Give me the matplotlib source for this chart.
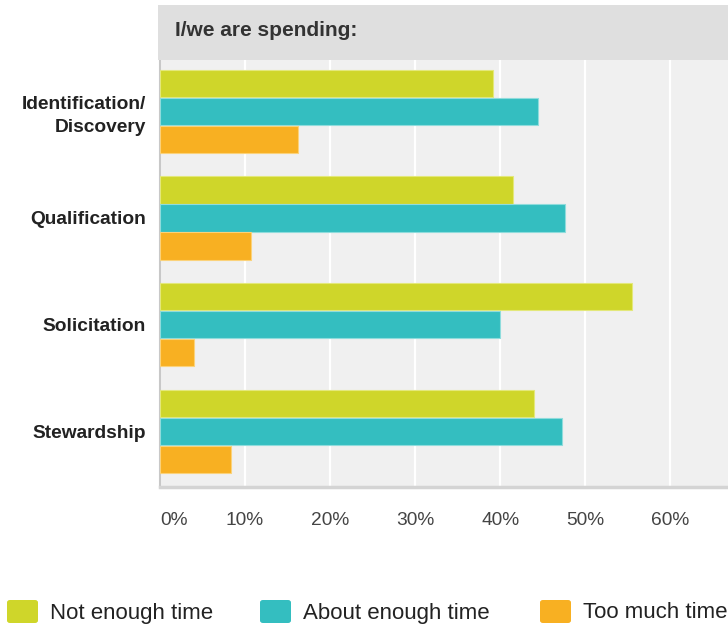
"""Time spent per fundraising stage: horizontal grouped bar chart."""

import matplotlib

matplotlib.use("Agg")
import matplotlib.pyplot as plt
import numpy as np
from matplotlib.patches import FancyBboxPatch, Rectangle

stages = ["Identification/\nDiscovery", "Qualification", "Solicitation", "Stewardship"]
series_names = ["Not enough time", "About enough time", "Too much time"]
not_enough = [39.2, 41.5, 55.5, 44.0]
about_enough = [44.4, 47.6, 40.0, 47.3]
too_much = [16.2, 10.7, 4.0, 8.4]
x_ticks = [0, 10, 20, 30, 40, 50, 60]
x_tick_labels = ["0%", "10%", "20%", "30%", "40%", "50%", "60%"]

colors = ["#cfd62a", "#34bec0", "#f8b022"]
edges = ["#e3e87a", "#8fdcdc", "#fbd27a"]

plt.rcParams["font.family"] = ["Liberation Sans", "DejaVu Sans"]

fig = plt.figure(figsize=(7.28, 6.25), dpi=100)
ax = fig.add_axes([160 / 728, 138 / 625, 568 / 728, 427 / 625])
ax.set_facecolor("#f0f0f0")

y = np.arange(len(stages))
h = 0.262
for i, (vals, col, ec) in enumerate(zip([not_enough, about_enough, too_much], colors, edges)):
    ax.barh(y + (i - 1) * h, vals, height=h * 0.97, color=col, edgecolor=ec,
            linewidth=0.8, zorder=3)

ax.set_xlim(0, 66.8)
ax.set_ylim(3.52, -0.48)
ax.set_xticks(x_ticks)
ax.set_xticklabels(x_tick_labels)
ax.xaxis.grid(True, color="white", linewidth=1.6, zorder=1)
ax.set_axisbelow(True)
ax.set_yticks(y)
ax.set_yticklabels(stages, fontweight="bold", fontsize=13.8, color="#222222",
                   linespacing=1.45)
ax.tick_params(axis="y", length=0, pad=10)
ax.tick_params(axis="x", length=0, pad=18, labelsize=13.8, labelcolor="#444444")
ax.get_xticklabels()[0].set_horizontalalignment("left")
for s in ["top", "right"]:
    ax.spines[s].set_visible(False)
ax.spines["left"].set_color("#c8c8c8")
ax.spines["left"].set_linewidth(1.5)
ax.spines["bottom"].set_color("#d4d4d4")
ax.spines["bottom"].set_linewidth(2.5)

# header band above the plot
fig.patches.append(Rectangle((158 / 728, 565 / 625), 570 / 728, 55 / 625,
                             transform=fig.transFigure, facecolor="#dfdfdf",
                             edgecolor="none"))
fig.text(175 / 728, 594 / 625, "I/we are spending:", fontsize=15,
         fontweight="bold", color="#333333", va="center")

# legend along the bottom
leg_x = [7, 260, 540]
for lx, name, col in zip(leg_x, series_names, colors):
    fig.patches.append(FancyBboxPatch((lx / 728, 2 / 625), 31 / 728, 23 / 625,
                                      boxstyle="round,pad=0,rounding_size=0.004",
                                      transform=fig.transFigure, facecolor=col,
                                      edgecolor="none"))
    fig.text((lx + 43) / 728, 12 / 625, name, fontsize=16, color="#222222",
             va="center")

fig.savefig("out.png", dpi=100)
plt.close(fig)
